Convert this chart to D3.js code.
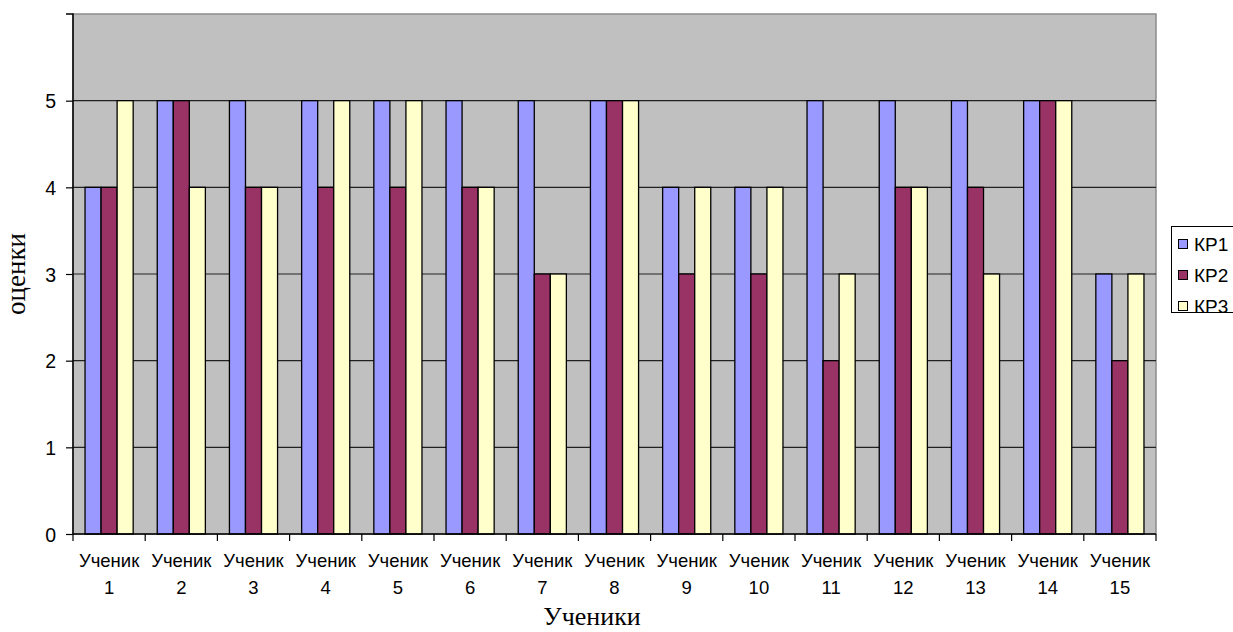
<!DOCTYPE html>
<html>
<head>
<meta charset="utf-8">
<script src="https://cdn.jsdelivr.net/npm/d3@7"></script>
<style>
  html, body { margin: 0; padding: 0; background: #fff; overflow: hidden; }
  svg { display: block; }
</style>
</head>
<body>
<svg id="chart" width="1233" height="632"></svg>
<script>
// Students and test results (КР1, КР2, КР3)
const categories = ["1","2","3","4","5","6","7","8","9","10","11","12","13","14","15"];
const seriesNames = ["КР1", "КР2", "КР3"];
const kr1 = [4,5,5,5,5,5,5,5,4,4,5,5,5,5,3];
const kr2 = [4,5,4,4,4,4,3,5,3,3,2,4,4,5,2];
const kr3 = [5,4,4,5,5,4,3,5,4,4,3,4,3,5,3];
const yTicks = [0,1,2,3,4,5];
const colors = ["#9999ff", "#993366", "#ffffcc"];

const series = [kr1, kr2, kr3];
const svg = d3.select("#chart");

const plotL = 73, plotR = 1156, plotT = 14, plotB = 534;

const x = d3.scaleBand().domain(categories).range([plotL, plotR]).paddingInner(0).paddingOuter(0);
const groupW = x.bandwidth() * 3 / 4.5;
const xs = d3.scaleBand().domain(seriesNames).range([0, groupW]).padding(0);
const y = d3.scaleLinear().domain([0, 6]).range([plotB, plotT]);

// plot background
svg.append("rect")
  .attr("x", plotL).attr("y", plotT)
  .attr("width", plotR - plotL).attr("height", plotB - plotT)
  .attr("fill", "#c0c0c0")
  .attr("stroke", "#8c8c8c").attr("stroke-width", 1.5);

// horizontal gridlines
svg.append("g").selectAll("line")
  .data(yTicks.filter(d => d > 0))
  .join("line")
  .attr("x1", plotL).attr("x2", plotR)
  .attr("y1", d => y(d)).attr("y2", d => y(d))
  .attr("stroke", "#222").attr("stroke-width", 1.2);

// bars
const groups = svg.append("g").selectAll("g")
  .data(categories)
  .join("g")
  .attr("transform", d => `translate(${x(d) + (x.bandwidth() - groupW) / 2},0)`);

groups.selectAll("rect")
  .data((d, i) => series.map((s, k) => ({ name: seriesNames[k], v: s[i], k })))
  .join("rect")
  .attr("x", d => xs(d.name))
  .attr("y", d => y(d.v))
  .attr("width", xs.bandwidth())
  .attr("height", d => y(0) - y(d.v))
  .attr("fill", d => colors[d.k])
  .attr("stroke", "#000").attr("stroke-width", 1.3);

// y axis
const yAxis = d3.axisLeft(y).tickValues(yTicks).tickFormat(d3.format("d")).tickSize(7).tickPadding(10);
const gy = svg.append("g").attr("transform", `translate(${plotL},0)`).call(yAxis);
gy.attr("font-size", null).attr("font-family", null);
gy.select(".domain").attr("stroke", "#000").attr("stroke-width", 1.5).attr("d", `M-7,${plotT}H0V${plotB}`);
gy.selectAll(".tick line").attr("stroke", "#000").attr("stroke-width", 1.2);
gy.selectAll(".tick text")
  .attr("dy", "0.36em")
  .style("font-family", "'Liberation Sans', Arial, sans-serif")
  .style("font-size", "19.5px").attr("fill", "#000");

// x axis with ticks at category boundaries
const gx = svg.append("g").attr("transform", `translate(0,${plotB})`);
gx.append("line").attr("x1", plotL).attr("x2", plotR).attr("y1", 0).attr("y2", 0)
  .attr("stroke", "#000").attr("stroke-width", 1.5);
const bounds = categories.map(c => x(c)).concat([plotR]);
gx.selectAll("line.tk").data(bounds).join("line").attr("class", "tk")
  .attr("x1", d => d).attr("x2", d => d).attr("y1", 0).attr("y2", 7)
  .attr("stroke", "#000").attr("stroke-width", 1.2);
const lbl = gx.selectAll("text.lbl").data(categories).join("text").attr("class", "lbl")
  .attr("text-anchor", "middle")
  .style("font-family", "'Liberation Sans', Arial, sans-serif")
  .style("font-size", "18.5px").attr("fill", "#000");
lbl.append("tspan").attr("x", d => x(d) + x.bandwidth() / 2).attr("y", 33).text("Ученик");
lbl.append("tspan").attr("x", d => x(d) + x.bandwidth() / 2).attr("y", 60).text(d => d);

// axis titles
svg.append("text")
  .attr("x", 592).attr("y", 625)
  .attr("text-anchor", "middle")
  .style("font-family", "'Liberation Serif', 'Times New Roman', serif")
  .style("font-size", "26px").attr("fill", "#000")
  .text("Ученики");
svg.append("text")
  .attr("transform", "translate(25,274) rotate(-90)")
  .attr("text-anchor", "middle")
  .style("font-family", "'Liberation Serif', 'Times New Roman', serif")
  .style("font-size", "27px").attr("fill", "#000")
  .text("оценки");

// legend
const lg = svg.append("g");
lg.append("rect").attr("x", 1171.5).attr("y", 226.5).attr("width", 80).attr("height", 86)
  .attr("fill", "#fff").attr("stroke", "#000").attr("stroke-width", 1);
const items = lg.selectAll("g.it").data(seriesNames).join("g").attr("class", "it")
  .attr("transform", (d, i) => `translate(1178,${244 + i * 31})`);
items.append("rect").attr("x", 0.5).attr("y", -4.5).attr("width", 9).attr("height", 9)
  .attr("fill", (d, i) => colors[i]).attr("stroke", "#000").attr("stroke-width", 1);
items.append("text").attr("x", 16).attr("y", 7)
  .style("font-family", "'Liberation Sans', Arial, sans-serif")
  .style("font-size", "19px").attr("fill", "#000")
  .text(d => d);
</script>
</body>
</html>
